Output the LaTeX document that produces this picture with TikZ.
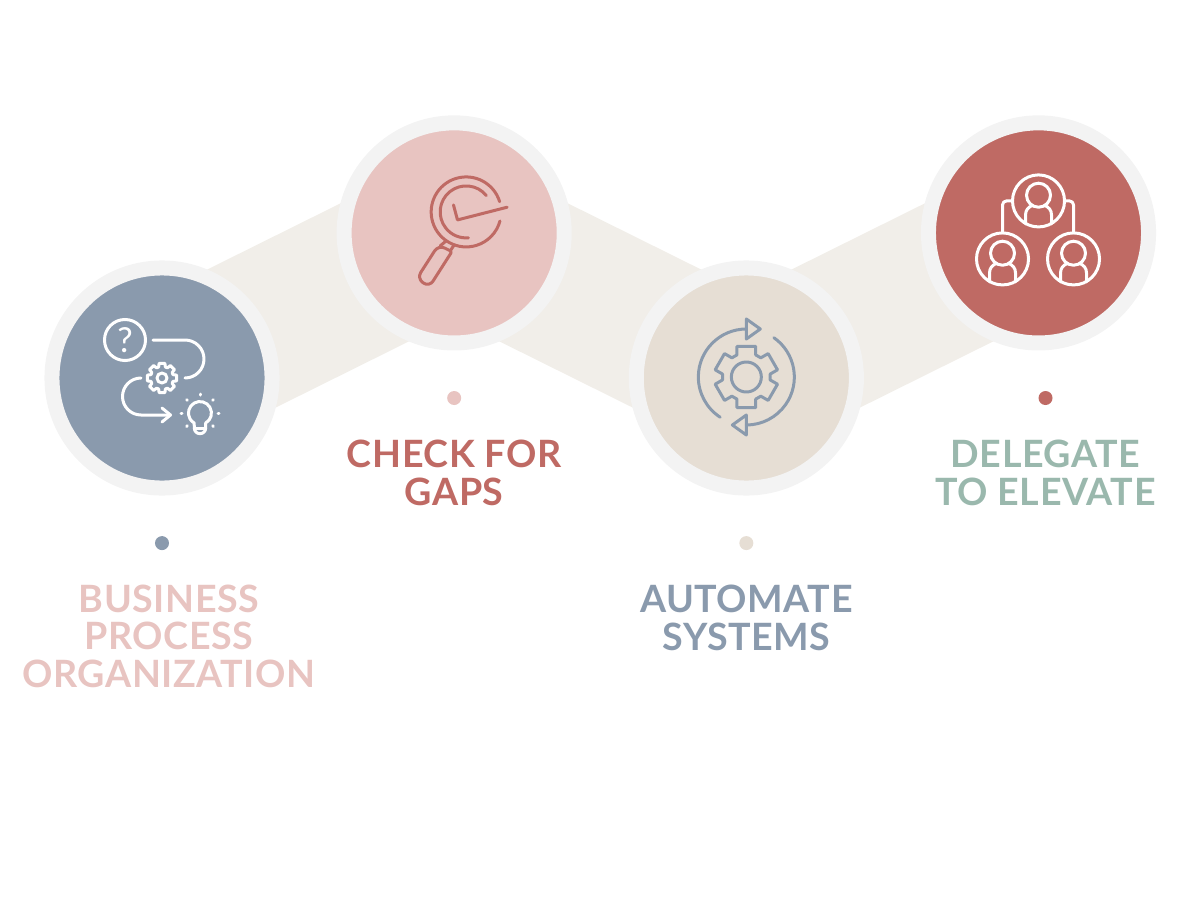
\documentclass[tikz,border=0pt]{standalone}
\usepackage{fontspec}
\setmainfont{Lato}
\newfontfamily\stagefont[LetterSpace=1.5]{Lato}
\usetikzlibrary{
	arrows.meta,
	backgrounds,
	positioning,
}
\definecolor{bandtone}{HTML}{F1EEE9}
\definecolor{ringtone}{HTML}{F3F3F3}
\definecolor{slatetone}{HTML}{8A9AAD}
\definecolor{blushtone}{HTML}{E8C4C1}
\definecolor{sandtone}{HTML}{E6DED4}
\definecolor{bricktone}{HTML}{BF6A64}
\definecolor{sagetone}{HTML}{9AB8AD}

\tikzset{
	hub/.style={circle,draw=ringtone,line width=.15cm,minimum size=2.2cm,inner sep=0pt,outer sep=0pt},
	band/.style={bandtone,line width=1.54cm},
	spot/.style={circle,minimum size=.14cm,inner sep=0pt},
	stage/.style={align=center,inner sep=0pt,font={\stagefont\bfseries\fontsize{10.7}{10.67}\selectfont}},
	icon/.style={line width=.03cm,line cap=round,line join=round},
	face/.style={circle,draw,minimum size=.52cm,inner sep=0pt,outer sep=0pt},
	persona/.pic={
		\draw (0,5.7) circle (12);
		\draw (-13,-23) -- (-13,-14) .. controls (-13,-9) and (-10,-6) .. (-6,-4.5);
		\draw (13,-23) -- (13,-14) .. controls (13,-9) and (10,-6) .. (6,-4.5);
	},
}

\begin{document}
\begin{tikzpicture}[x=.01cm,y=.01cm,node distance=1.65cm]
	\useasboundingbox (0,0) rectangle (1200,-900);

	%% circles
	\node (organize) [hub,fill=slatetone] at (162,-378) {};
	\node (check) [hub,fill=blushtone,right of=organize,node distance=2.92cm,yshift=1.45cm] {};
	\node (automate) [hub,fill=sandtone,right of=check,node distance=2.92cm,yshift=-1.45cm] {};
	\node (delegate) [hub,fill=bricktone,right of=automate,node distance=2.92cm,yshift=1.45cm] {};

	%% dots
	\node (dotA) [spot,fill=slatetone,below of=organize] {};
	\node (dotB) [spot,fill=blushtone,below of=check] {};
	\node (dotC) [spot,fill=sandtone,below of=automate] {};
	\node (dotD) [spot,fill=bricktone,below of=delegate,xshift=.07cm] {};

	%% labels
	\node (textA) [stage,text=blushtone,below of=dotA,node distance=.93cm,xshift=.07cm] {BUSINESS\\PROCESS\\ORGANIZATION};
	\node (textB) [stage,text=bricktone,below of=dotB,node distance=.75cm] {CHECK FOR\\GAPS};
	\node (textC) [stage,text=slatetone,below of=dotC,node distance=.75cm] {AUTOMATE\\SYSTEMS};
	\node (textD) [stage,text=sagetone,below of=dotD,node distance=.75cm] {DELEGATE\\TO ELEVATE};

	%% bands behind the circles
	\begin{scope}[on background layer]
		\draw[band] (organize.center) to (check.center);
		\draw[band] (check.center) to (automate.center);
		\draw[band] (automate.center) to (delegate.center);
	\end{scope}

	%% process icon
	\begin{scope}[shift={(organize.center)},white,icon]
		\node (query) [circle,draw,minimum size=.41cm,inner sep=0pt] at (-37,38) {\fontsize{9.8}{10}\selectfont ?};
		\draw (-9,38) -- (23,38) arc[start angle=90,end angle=-90,radius=19];
		\draw (-21,0) arc[start angle=90,end angle=270,radius=18.5] -- (8,-37);
		\draw (0,-30) -- (8.5,-37) -- (0,-44);
		\draw (0,0) circle (5);
		\draw (-17:11.5) \foreach \a in {0,45,...,315} {-- (\a-11:15) -- (\a+11:15) -- (\a+17:11.5) -- (\a+28:11.5)} -- cycle;
		\draw (43.7,-45) arc[start angle=-60,end angle=240,radius=11.5] -- (32.3,-50) arc[start angle=180,end angle=360,radius=5.7] -- cycle;
		\draw (32.3,-50) -- (43.7,-50);
		\foreach \a in {0,45,90,135,180,225,315} {
			\draw ([shift={(38,-35)}]\a:18) -- ([shift={(38,-35)}]\a:19);
		}
	\end{scope}

	%% magnifier icon
	\begin{scope}[shift={(check.center)},bricktone,icon]
		\draw (12,21) ++(17:35) arc[start angle=17,end angle=345,radius=35];
		\draw (12,21) ++(39:26) arc[start angle=39,end angle=275,radius=26];
		\draw (-.7,28) -- (3.3,13) -- (53,25.7);
		\draw (-8,-8) -- (-14,-13);
		\draw (0,-12) -- (-4,-18);
		\draw[rounded corners=.02cm] (-15.7,-12) -- (-2.3,-18.7) [rounded corners=.07cm] -- (-25,-54.2) -- (-37.2,-45.4) -- cycle;
	\end{scope}

	%% gear icon
	\begin{scope}[shift={(automate.center)},slatetone,icon]
		\begin{scope}[shift={(0,1)}]
			\draw (0,0) circle (15);
			\draw (7:24) \foreach \a in {30,90,...,330} {-- (\a-23:24) -- (\a-17:32) -- (\a+17:32) -- (\a+23:24)} -- cycle;
		\end{scope}
		\draw (0,49) arc[start angle=90,end angle=237,radius=48];
		\draw (0,1) ++(55:48) arc[start angle=55,end angle=-90,radius=48];
		\draw (0,59) -- (14,49) -- (0,39) -- cycle;
		\draw (0,-37) -- (-14,-47) -- (0,-57) -- cycle;
	\end{scope}

	%% team icon
	\begin{scope}[shift={(delegate.center)},white,icon]
		\node (chief) [face] at (0,32) {};
		\node (aideL) [face] at (-36,-26) {};
		\node (aideR) [face] at (35,-26) {};
		\draw[rounded corners=.04cm] (chief.west) -| (aideL.north);
		\draw[rounded corners=.04cm] (chief.east) -| (aideR.north);
		\pic at (chief) {persona};
		\pic at (aideL) {persona};
		\pic at (aideR) {persona};
	\end{scope}
\end{tikzpicture}
\end{document}
